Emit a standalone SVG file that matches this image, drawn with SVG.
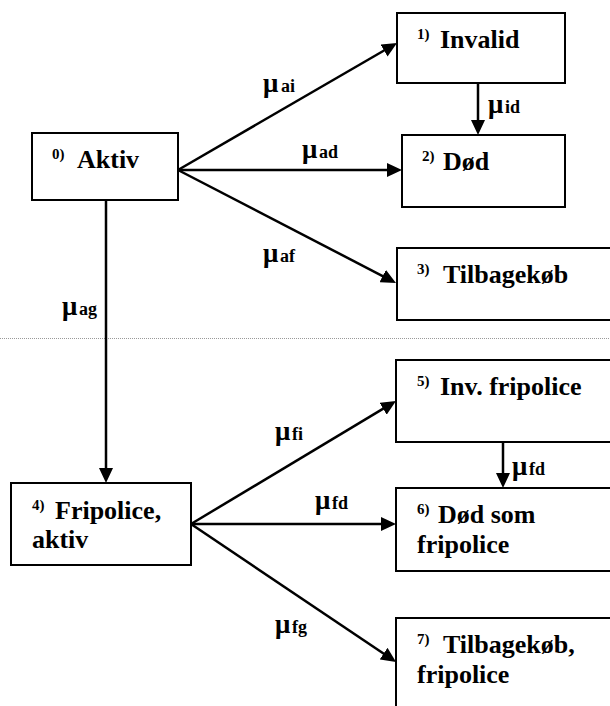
<svg xmlns="http://www.w3.org/2000/svg" width="610" height="706" viewBox="0 0 610 706">
<defs>
<style>
.box{fill:#fff;stroke:#000;stroke-width:2}
.edge{stroke:#000;stroke-width:2.5;fill:none;marker-end:url(#arr)}
</style>
<marker id="arr" markerUnits="userSpaceOnUse" markerWidth="16" markerHeight="14" refX="7" refY="7" orient="auto">
<path d="M0,0 L15,7 L0,14 z" fill="#000"/>
</marker>
</defs>
<rect width="610" height="706" fill="#fff"/>
<line x1="0" y1="338.5" x2="610" y2="338.5" stroke="#999" stroke-width="1" stroke-dasharray="1,1"/>
<g id="connectors">
<line class="edge" x1="178" y1="170" x2="390.1" y2="47"/>
<line class="edge" x1="178" y1="170" x2="394" y2="170"/>
<line class="edge" x1="178" y1="170" x2="388.9" y2="279.3"/>
<line class="edge" x1="106" y1="200" x2="106" y2="475"/>
<line class="edge" x1="478" y1="83" x2="478" y2="127"/>
<line class="edge" x1="191" y1="524" x2="389.1" y2="405.1"/>
<line class="edge" x1="191" y1="524" x2="388" y2="524"/>
<line class="edge" x1="191" y1="524" x2="389.4" y2="657.5"/>
<line class="edge" x1="503" y1="442" x2="503" y2="480"/>
<text font-family="Liberation Serif" font-weight="700" font-size="27" x="263" y="92">&#956;</text>
<text font-family="Liberation Serif" font-weight="700" font-size="18" x="281" y="92">ai</text>
<text font-family="Liberation Serif" font-weight="700" font-size="27" x="302" y="158">&#956;</text>
<text font-family="Liberation Serif" font-weight="700" font-size="18" x="319" y="158">ad</text>
<text font-family="Liberation Serif" font-weight="700" font-size="27" x="488" y="113">&#956;</text>
<text font-family="Liberation Serif" font-weight="700" font-size="18" x="505" y="113">id</text>
<text font-family="Liberation Serif" font-weight="700" font-size="27" x="263" y="262">&#956;</text>
<text font-family="Liberation Serif" font-weight="700" font-size="18" x="280" y="262">af</text>
<text font-family="Liberation Serif" font-weight="700" font-size="27" x="62" y="315">&#956;</text>
<text font-family="Liberation Serif" font-weight="700" font-size="18" x="79" y="315">ag</text>
<text font-family="Liberation Serif" font-weight="700" font-size="27" x="275" y="440">&#956;</text>
<text font-family="Liberation Serif" font-weight="700" font-size="18" x="292" y="440">fi</text>
<text font-family="Liberation Serif" font-weight="700" font-size="27" x="315" y="509">&#956;</text>
<text font-family="Liberation Serif" font-weight="700" font-size="18" x="332" y="509">fd</text>
<text font-family="Liberation Serif" font-weight="700" font-size="27" x="512" y="475">&#956;</text>
<text font-family="Liberation Serif" font-weight="700" font-size="18" x="529" y="475">fd</text>
<text font-family="Liberation Serif" font-weight="700" font-size="27" x="275" y="633">&#956;</text>
<text font-family="Liberation Serif" font-weight="700" font-size="18" x="292" y="633">fg</text>
</g>
<g id="n0">
<rect class="box" x="32" y="133" width="146" height="67"/>
<text font-family="Liberation Serif" font-weight="700" font-size="15" x="52" y="159">0)</text>
<text font-family="Liberation Serif" font-weight="700" font-size="26" x="77" y="168">Aktiv</text>
</g>
<g id="n1">
<rect class="box" x="397" y="13" width="168" height="70"/>
<text font-family="Liberation Serif" font-weight="700" font-size="15" x="417" y="39">1)</text>
<text font-family="Liberation Serif" font-weight="700" font-size="26" x="440" y="48">Invalid</text>
</g>
<g id="n2">
<rect class="box" x="402" y="135" width="163" height="72"/>
<text font-family="Liberation Serif" font-weight="700" font-size="15" x="422" y="161">2)</text>
<text font-family="Liberation Serif" font-weight="700" font-size="26" x="443" y="170">D&#248;d</text>
</g>
<g id="n3">
<rect class="box" x="397" y="248" width="220" height="72"/>
<text font-family="Liberation Serif" font-weight="700" font-size="15" x="417" y="274">3)</text>
<text font-family="Liberation Serif" font-weight="700" font-size="26" x="443" y="283">Tilbagek&#248;b</text>
</g>
<g id="n4">
<rect class="box" x="11" y="483" width="180" height="82"/>
<text font-family="Liberation Serif" font-weight="700" font-size="15" x="32" y="510">4)</text>
<text font-family="Liberation Serif" font-weight="700" font-size="26" x="55" y="519">Fripolice,</text>
<text font-family="Liberation Serif" font-weight="700" font-size="26" x="32" y="548">aktiv</text>
</g>
<g id="n5">
<rect class="box" x="396" y="360" width="220" height="82"/>
<text font-family="Liberation Serif" font-weight="700" font-size="15" x="417" y="386">5)</text>
<text font-family="Liberation Serif" font-weight="700" font-size="26" x="440" y="395">Inv. fripolice</text>
</g>
<g id="n6">
<rect class="box" x="396" y="488" width="220" height="83"/>
<text font-family="Liberation Serif" font-weight="700" font-size="15" x="417" y="514">6)</text>
<text font-family="Liberation Serif" font-weight="700" font-size="26" x="438" y="523">D&#248;d som</text>
<text font-family="Liberation Serif" font-weight="700" font-size="26" x="417" y="553">fripolice</text>
</g>
<g id="n7">
<rect class="box" x="396" y="618" width="220" height="100"/>
<text font-family="Liberation Serif" font-weight="700" font-size="15" x="417" y="644">7)</text>
<text font-family="Liberation Serif" font-weight="700" font-size="26" x="443" y="653">Tilbagek&#248;b,</text>
<text font-family="Liberation Serif" font-weight="700" font-size="26" x="417" y="683">fripolice</text>
</g>
</svg>
